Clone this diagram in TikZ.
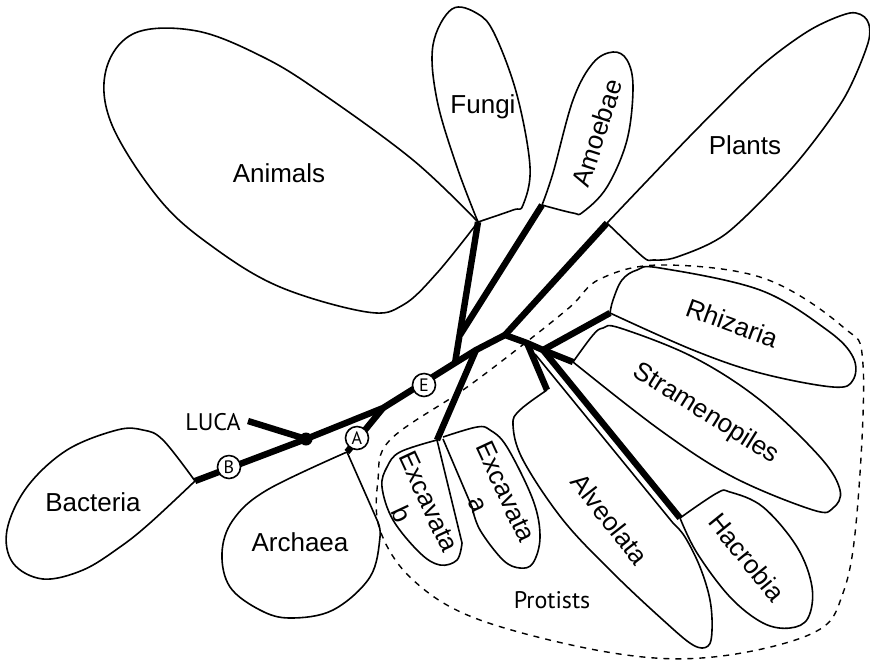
\documentclass[tikz,border=0pt]{standalone}
\usepackage{fontspec}
\setmainfont{Liberation Sans}
\newfontfamily\ptsans{PT Sans}
\usetikzlibrary{positioning}

\begin{document}
\begin{tikzpicture}[x=0.5pt, y=-0.5pt,
  blob/.style={draw, line width=0.8pt, line join=round},
  branch/.style={line width=3.2pt},
  tag/.style={circle, draw, fill=white, line width=0.8pt, inner sep=0pt,
              minimum size=11.5pt, font=\ptsans\fontsize{9}{9}\selectfont},
  grp/.style={font=\fontsize{13}{15}\selectfont},
  note/.style={font=\ptsans\fontsize{12}{14}\selectfont}
]
  \useasboundingbox (0,0) rectangle (870,660);

  % protist boundary
  \draw[dashed, line width=0.7pt] plot[smooth cycle, tension=0.6] coordinates {
    (390,440) (463,390) (520,347) (570,307) (600,279) (660,265) (763,278)
    (843,327) (863,365) (857,513) (843,593) (813,633) (713,657) (613,653)
    (480,620) (413,580) (380,530) (378,480)};

  % tree points
  \coordinate (luca) at (248,421);
  \coordinate (root) at (306,439);
  \coordinate (bact) at (195,481);
  \coordinate (t1) at (383,408);
  \coordinate (arch) at (347,452);
  \coordinate (t2) at (455,363);
  \coordinate (t3) at (476,350);
  \coordinate (t4) at (505,335);
  \coordinate (fung) at (478,222);
  \coordinate (amsp) at (460,335);
  \coordinate (amoe) at (542,205);
  \coordinate (plan) at (607,223);
  \coordinate (exca) at (437,440);
  \coordinate (p1) at (527,343);
  \coordinate (p2) at (543,350);
  \coordinate (alve) at (547,390);
  \coordinate (rhiz) at (610,313);
  \coordinate (stra) at (573,362);
  \coordinate (hacr) at (680,518);

  % blobs
  \draw[blob] plot[smooth, tension=0.6] coordinates {
    (fung) (413,160) (320,92) (263,57) (197,31) (135,33) (106,70) (112,125)
    (160,200) (213,247) (280,287) (367,312) (403,305) (437,273) (fung)};
  \draw[blob] plot[smooth, tension=0.6] coordinates {
    (fung) (457,167) (437,100) (433,45) (452,9) (478,14) (495,35)
    (517,95) (530,167) (523,205) (513,210) (fung)};
  \draw[blob] plot[smooth, tension=0.6] coordinates {
    (amoe) (553,173) (573,100) (593,63) (613,52) (627,60) (633,87)
    (627,140) (607,187) (583,212) (573,213) (amoe)};
  \draw[blob] plot[smooth, tension=0.5] coordinates {
    (plan) (693,133) (760,67) (810,30) (850,13) (867,20) (868,43)
    (843,100) (793,167) (727,233) (677,257) (653,260) (643,257) (plan)};
  \draw[blob] plot[smooth, tension=0.6] coordinates {
    (rhiz) (613,300) (622,280) (637,270) (660,268) (760,290) (827,330)
    (853,357) (853,380) (833,387) (760,373) (693,350) (rhiz)};
  \draw[blob] plot[smooth, tension=0.6] coordinates {
    (stra) (593,335) (603,328) (620,328) (693,357) (760,400) (820,457)
    (840,490) (833,508) (813,510) (733,477) (660,430) (stra)};
  \draw[blob] plot[smooth, tension=0.6] coordinates {
    (hacr) (717,493) (730,492) (763,507) (797,547) (812,587) (808,618)
    (790,628) (763,623) (730,597) (697,553) (hacr)};
  \draw[blob] plot[smooth, tension=0.6] coordinates {
    (alve) (520,410) (513,425) (523,460) (563,520) (613,573) (663,620)
    (693,645) (708,646) (712,630) (710,600) (700,567) (685,537) (673,523)}
    -- (535,354);
  \draw[blob] plot[smooth, tension=0.6] coordinates {
    (exca) (400,452) (387,467) (382,487) (393,520) (420,553) (440,565)
    (457,560) (462,543)} -- (exca);
  \draw[blob] plot[smooth, tension=0.6] coordinates {
    (443,437) (477,427) (490,430) (507,447) (533,500) (540,537)
    (533,563) (520,568) (503,560) (480,530) (472,507)} -- (443,439);
  \draw[blob] plot[smooth, tension=0.6] coordinates {
    (bact) (163,440) (143,430) (117,430) (67,450) (27,487) (7,530)
    (13,563) (43,579) (83,570) (120,547) (150,523) (bact)};
  \draw[blob] plot[smooth, tension=0.6] coordinates {
    (arch) (267,490) (233,520) (222,553) (230,587) (260,610) (290,618)
    (333,610) (370,577) (380,537) (377,520)} -- (arch);

  % thick branches
  \draw[branch] (luca) -- (root);
  \draw[branch] (bact) -- (root) -- (t1) -- (t2) -- (t3) -- (t4) -- (p1) -- (p2);
  \draw[branch] (t1) -- (arch);
  \draw[branch] (t2) -- (fung);
  \draw[branch] (amsp) -- (amoe);
  \draw[branch] (t4) -- (plan);
  \draw[branch] (t3) -- (exca);
  \draw[branch] (p1) -- (alve);
  \draw[branch] (p2) -- (rhiz);
  \draw[branch] (p2) -- (stra);
  \draw[branch] (p2) -- (hacr);
  \fill (root) circle (6.5);

  % clade tags
  \node[tag] (tagA) at (357,438) {A};
  \node[tag] (tagB) at (229,467) {B};
  \node[tag] (tagE) at (424,385) {E};

  % labels
  \node[note] (lucalbl) at (213,422) {LUCA};
  \node[grp] (bactlbl) at (93,502) {Bacteria};
  \node[grp] (archlbl) at (300,542) {Archaea};
  \node[grp] (animlbl) at (279,173) {Animals};
  \node[grp] (funglbl) at (483,107) {Fungi};
  \node[grp, rotate=72] (amoelbl) at (597,133) {Amoebae};
  \node[grp] (planlbl) at (745,145) {Plants};
  \node[grp, rotate=-20] (rhizlbl) at (732,323) {Rhizaria};
  \node[grp, rotate=-32] (stralbl) at (706,414) {Stramenopiles};
  \node[grp, rotate=-51] (hacrlbl) at (747,557) {Hacrobia};
  \node[grp, rotate=-52] (alvelbl) at (610,519) {Alveolata};
  \node[grp, rotate=-65, align=center] (exblbl) at (415,508) {Excavata\\b};
  \node[grp, rotate=-65, align=center] (exalbl) at (492,498) {Excavata\\a};
  \node[note] (protlbl) at (552,600) {Protists};
\end{tikzpicture}
\end{document}
